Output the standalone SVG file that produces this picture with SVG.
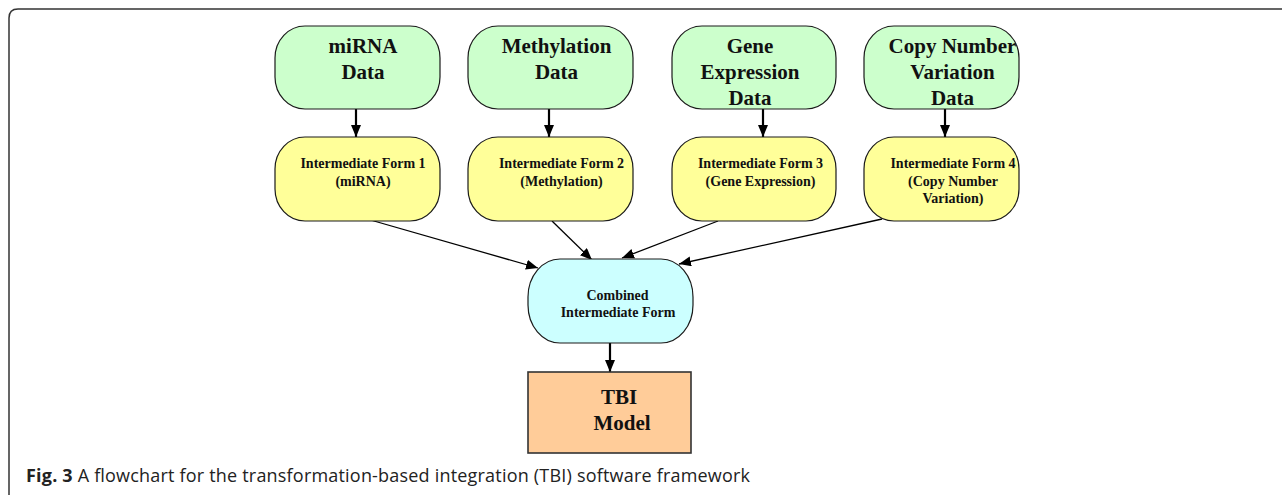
<svg xmlns="http://www.w3.org/2000/svg" width="1282" height="495" viewBox="0 0 1282 495">
<defs>
<style>
.g{fill:#ccffcc;stroke:#1a1a1a;stroke-width:1.2}
.y{fill:#ffff99;stroke:#1a1a1a;stroke-width:1.2}
.c{fill:#ccffff;stroke:#1a1a1a;stroke-width:1.2}
.o{fill:#ffcc99;stroke:#333;stroke-width:1.6}
.big{font-family:"Liberation Serif",serif;font-weight:bold;font-size:21px;fill:#111;text-anchor:middle}
.sm{font-family:"Liberation Serif",serif;font-weight:bold;font-size:14px;fill:#111;text-anchor:middle}
.cap{font-family:"Open Sans",sans-serif;font-size:18px;fill:#222}
.ln{stroke:#000;stroke-width:1.3;fill:none}
.vl{stroke:#000;stroke-width:2.2;fill:none}
</style>
<marker id="ah" markerUnits="userSpaceOnUse" markerWidth="13" markerHeight="11" refX="12" refY="5" orient="auto">
<path d="M0,0 L12,5 L0,10 z" fill="#000"/>
</marker>
</defs>
<rect width="1282" height="495" fill="#fff"/>
<path d="M9 495 V18 Q9 9 18 9 H1282" fill="none" stroke="#333" stroke-width="1.5"/>

<g id="connectors">
<line class="vl" x1="356" y1="109" x2="356" y2="137" marker-end="url(#ah)"/>
<line class="vl" x1="549" y1="109" x2="549" y2="137" marker-end="url(#ah)"/>
<line class="vl" x1="763" y1="109" x2="763" y2="137" marker-end="url(#ah)"/>
<line class="vl" x1="945" y1="109" x2="945" y2="137" marker-end="url(#ah)"/>
<line class="ln" x1="367" y1="219" x2="538" y2="268" marker-end="url(#ah)"/>
<line class="ln" x1="552" y1="221" x2="592" y2="260" marker-end="url(#ah)"/>
<line class="ln" x1="718" y1="221" x2="622" y2="258" marker-end="url(#ah)"/>
<line class="ln" x1="882" y1="219" x2="679" y2="264" marker-end="url(#ah)"/>
<line class="vl" x1="610" y1="343" x2="610" y2="372" marker-end="url(#ah)"/>
</g>

<g id="mirna-data">
<rect class="g" x="275" y="26" width="165" height="83" rx="30" ry="32"/>
<text class="big" x="363" y="53">miRNA</text>
<text class="big" x="363" y="79">Data</text>
</g>
<g id="methylation-data">
<rect class="g" x="468" y="26" width="165" height="83" rx="30" ry="32"/>
<text class="big" x="556.5" y="53">Methylation</text>
<text class="big" x="556.5" y="79">Data</text>
</g>
<g id="gene-data">
<rect class="g" x="672" y="26" width="164" height="83" rx="30" ry="32"/>
<text class="big" x="750" y="53">Gene</text>
<text class="big" x="750" y="79">Expression</text>
<text class="big" x="750" y="104.5">Data</text>
</g>
<g id="cnv-data">
<rect class="g" x="864" y="26" width="155" height="83" rx="30" ry="32"/>
<text class="big" x="952.5" y="53">Copy Number</text>
<text class="big" x="952.5" y="79">Variation</text>
<text class="big" x="952.5" y="104.5">Data</text>
</g>

<g id="if1">
<rect class="y" x="275" y="137" width="165" height="84" rx="30" ry="32"/>
<text class="sm" x="363" y="168">Intermediate Form 1</text>
<text class="sm" x="363" y="185.5">(miRNA)</text>
</g>
<g id="if2">
<rect class="y" x="468" y="137" width="165" height="84" rx="30" ry="32"/>
<text class="sm" x="561.5" y="168">Intermediate Form 2</text>
<text class="sm" x="561.5" y="185.5">(Methylation)</text>
</g>
<g id="if3">
<rect class="y" x="672" y="137" width="164" height="84" rx="30" ry="32"/>
<text class="sm" x="760.5" y="168">Intermediate Form 3</text>
<text class="sm" x="760.5" y="185.5">(Gene Expression)</text>
</g>
<g id="if4">
<rect class="y" x="864" y="137" width="155" height="84" rx="30" ry="32"/>
<text class="sm" x="953" y="168">Intermediate Form 4</text>
<text class="sm" x="953" y="185.5">(Copy Number</text>
<text class="sm" x="953" y="203">Variation)</text>
</g>

<g id="combined">
<rect class="c" x="528" y="259" width="165" height="84" rx="32" ry="38"/>
<text class="sm" x="617.5" y="300">Combined</text>
<text class="sm" x="618" y="317">Intermediate Form</text>
</g>

<g id="tbi-model">
<rect class="o" x="528" y="372" width="163" height="81"/>
<text class="big" x="619" y="404">TBI</text>
<text class="big" x="622" y="430">Model</text>
</g>

<text class="cap" x="26" y="482" textLength="724" lengthAdjust="spacing"><tspan font-weight="bold">Fig. 3</tspan> A flowchart for the transformation-based integration (TBI) software framework</text>
</svg>
